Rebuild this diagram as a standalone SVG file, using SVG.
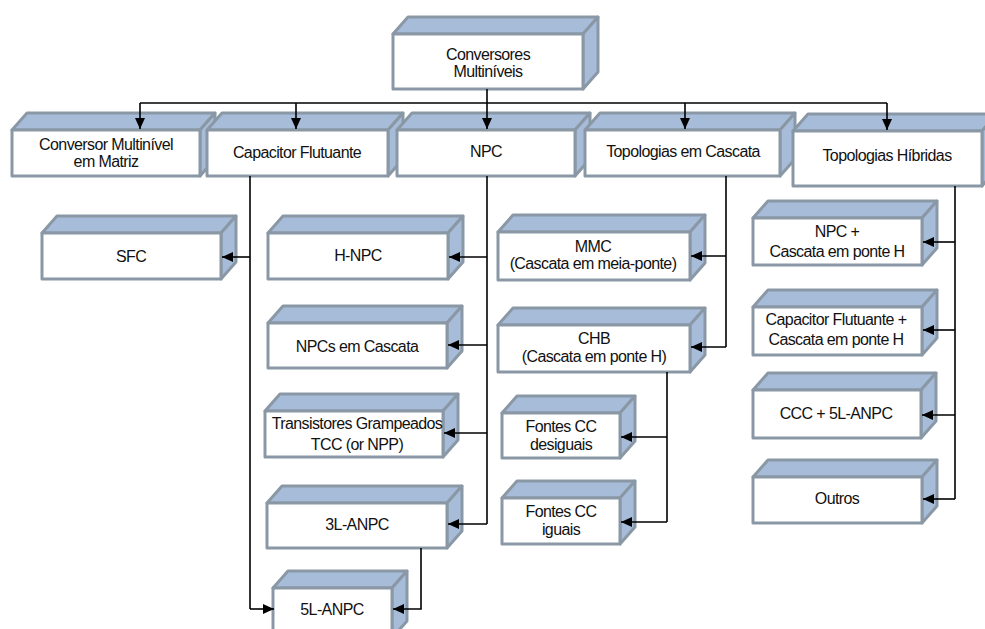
<svg xmlns="http://www.w3.org/2000/svg" width="985" height="629" viewBox="0 0 985 629">
<defs>
<style>
.f{fill:#ffffff;stroke:#8a98a6;stroke-width:3;stroke-linejoin:round}
.s{fill:#a7bcd8;stroke:#8a98a6;stroke-width:3;stroke-linejoin:round}
.t{font-family:"Liberation Sans",Arial,sans-serif;font-size:16px;letter-spacing:-0.6px;fill:#111;text-anchor:middle}
.c{fill:none;stroke:#000;stroke-width:1.6}
</style>
<marker id="ah" markerUnits="userSpaceOnUse" markerWidth="12" markerHeight="12" viewBox="0 0 12 12" refX="11" refY="6" orient="auto">
<path d="M0,1 L11,6 L0,11 Z" fill="#000"/>
</marker>
</defs>
<rect width="985" height="629" fill="#fff"/>

<g id="n-top">
<polygon class="s" points="393,34 408,17 598,17 583,34"/>
<polygon class="s" points="583,34 598,17 598,72 583,89"/>
<rect class="f" x="393" y="34" width="190" height="55"/>
<text class="t" x="488" y="60">Conversores</text>
<text class="t" x="488" y="77">Multiníveis</text>
</g>
<g id="n-matriz">
<polygon class="s" points="12,130 27,113 215,113 200,130"/>
<polygon class="s" points="200,130 215,113 215,159 200,176"/>
<rect class="f" x="12" y="130" width="188" height="46"/>
<text class="t" x="106" y="150">Conversor Multinível</text>
<text class="t" x="106" y="167">em Matriz</text>
</g>
<g id="n-capflut">
<polygon class="s" points="207,130 222,113 403,113 388,130"/>
<polygon class="s" points="388,130 403,113 403,159 388,176"/>
<rect class="f" x="207" y="130" width="181" height="46"/>
<text class="t" x="297" y="158">Capacitor Flutuante</text>
</g>
<g id="n-npc">
<polygon class="s" points="397,130 412,113 590,113 575,130"/>
<polygon class="s" points="575,130 590,113 590,159 575,176"/>
<rect class="f" x="397" y="130" width="178" height="46"/>
<text class="t" x="486" y="157">NPC</text>
</g>
<g id="n-cascata">
<polygon class="s" points="585,130 600,113 795,113 780,130"/>
<polygon class="s" points="780,130 795,113 795,159 780,176"/>
<rect class="f" x="585" y="130" width="195" height="46"/>
<text class="t" x="683" y="157">Topologias em Cascata</text>
</g>
<g id="n-hibridas">
<polygon class="s" points="793,131 808,114 997,114 982,131"/>
<polygon class="s" points="982,131 997,114 997,169 982,186"/>
<rect class="f" x="793" y="131" width="189" height="55"/>
<text class="t" x="887" y="161">Topologias Híbridas</text>
</g>

<g id="n-sfc">
<polygon class="s" points="42,233 57,216 236,216 221,233"/>
<polygon class="s" points="221,233 236,216 236,262 221,279"/>
<rect class="f" x="42" y="233" width="179" height="46"/>
<text class="t" x="131" y="262">SFC</text>
</g>
<g id="n-hnpc">
<polygon class="s" points="268,233 283,216 463,216 448,233"/>
<polygon class="s" points="448,233 463,216 463,262 448,279"/>
<rect class="f" x="268" y="233" width="180" height="46"/>
<text class="t" x="358" y="261">H-NPC</text>
</g>
<g id="n-npcscascata">
<polygon class="s" points="268,323 283,306 462,306 447,323"/>
<polygon class="s" points="447,323 462,306 462,351 447,368"/>
<rect class="f" x="268" y="323" width="179" height="45"/>
<text class="t" x="357" y="352">NPCs em Cascata</text>
</g>
<g id="n-tcc">
<polygon class="s" points="265,411 280,394 458,394 443,411"/>
<polygon class="s" points="443,411 458,394 458,440 443,457"/>
<rect class="f" x="265" y="411" width="178" height="46"/>
<text class="t" x="357" y="429">Transistores Grampeados</text>
<text class="t" x="357" y="450">TCC (or NPP)</text>
</g>
<g id="n-3lanpc">
<polygon class="s" points="267,503 282,486 462,486 447,503"/>
<polygon class="s" points="447,503 462,486 462,531 447,548"/>
<rect class="f" x="267" y="503" width="180" height="45"/>
<text class="t" x="357" y="530">3L-ANPC</text>
</g>
<g id="n-5lanpc">
<polygon class="s" points="273,588 288,571 407,571 392,588"/>
<polygon class="s" points="392,588 407,571 407,621 392,638"/>
<rect class="f" x="273" y="588" width="119" height="50"/>
<text class="t" x="332" y="615">5L-ANPC</text>
</g>

<g id="n-mmc">
<polygon class="s" points="498,232 513,215 705,215 690,232"/>
<polygon class="s" points="690,232 705,215 705,263 690,280"/>
<rect class="f" x="498" y="232" width="192" height="48"/>
<text class="t" x="593" y="252">MMC</text>
<text class="t" x="593" y="269">(Cascata em meia-ponte)</text>
</g>
<g id="n-chb">
<polygon class="s" points="498,325 513,308 705,308 690,325"/>
<polygon class="s" points="690,325 705,308 705,355 690,372"/>
<rect class="f" x="498" y="325" width="192" height="47"/>
<text class="t" x="594" y="344">CHB</text>
<text class="t" x="594" y="362">(Cascata em ponte H)</text>
</g>
<g id="n-desiguais">
<polygon class="s" points="502,413 517,396 635,396 620,413"/>
<polygon class="s" points="620,413 635,396 635,441 620,458"/>
<rect class="f" x="502" y="413" width="118" height="45"/>
<text class="t" x="561" y="432">Fontes CC</text>
<text class="t" x="561" y="450">desiguais</text>
</g>
<g id="n-iguais">
<polygon class="s" points="502,498 517,481 635,481 620,498"/>
<polygon class="s" points="620,498 635,481 635,527 620,544"/>
<rect class="f" x="502" y="498" width="118" height="46"/>
<text class="t" x="561" y="517">Fontes CC</text>
<text class="t" x="561" y="535">iguais</text>
</g>

<g id="n-h1">
<polygon class="s" points="753,218 768,201 937,201 922,218"/>
<polygon class="s" points="922,218 937,201 937,248 922,265"/>
<rect class="f" x="753" y="218" width="169" height="47"/>
<text class="t" x="837" y="237">NPC +</text>
<text class="t" x="837" y="257">Cascata em ponte H</text>
</g>
<g id="n-h2">
<polygon class="s" points="753,307 768,290 937,290 922,307"/>
<polygon class="s" points="922,307 937,290 937,338 922,355"/>
<rect class="f" x="753" y="307" width="169" height="48"/>
<text class="t" x="836" y="325">Capacitor Flutuante +</text>
<text class="t" x="836" y="345">Cascata em ponte H</text>
</g>
<g id="n-h3">
<polygon class="s" points="753,390 768,373 936,373 921,390"/>
<polygon class="s" points="921,390 936,373 936,421 921,438"/>
<rect class="f" x="753" y="390" width="168" height="48"/>
<text class="t" x="836" y="419">CCC + 5L-ANPC</text>
</g>
<g id="n-h4">
<polygon class="s" points="753,477 768,460 937,460 922,477"/>
<polygon class="s" points="922,477 937,460 937,506 922,523"/>
<rect class="f" x="753" y="477" width="169" height="46"/>
<text class="t" x="837" y="504">Outros</text>
</g>

<g id="connectors">
<path class="c" d="M487,89 V103 M140,103 H887"/>
<path class="c" d="M140,103 V129" marker-end="url(#ah)"/>
<path class="c" d="M296,103 V129" marker-end="url(#ah)"/>
<path class="c" d="M487,103 V129" marker-end="url(#ah)"/>
<path class="c" d="M685,103 V129" marker-end="url(#ah)"/>
<path class="c" d="M887,103 V130" marker-end="url(#ah)"/>

<path class="c" d="M250,176 V609"/>
<path class="c" d="M250,257 H222" marker-end="url(#ah)"/>
<path class="c" d="M250,609 H274" marker-end="url(#ah)"/>

<path class="c" d="M487,176 V524"/>
<path class="c" d="M487,257 H449" marker-end="url(#ah)"/>
<path class="c" d="M487,345 H448" marker-end="url(#ah)"/>
<path class="c" d="M487,433 H444" marker-end="url(#ah)"/>
<path class="c" d="M487,524 H448" marker-end="url(#ah)"/>
<path class="c" d="M421,548 V609 H393" marker-end="url(#ah)"/>

<path class="c" d="M726,176 V347"/>
<path class="c" d="M726,256 H691" marker-end="url(#ah)"/>
<path class="c" d="M726,347 H691" marker-end="url(#ah)"/>

<path class="c" d="M667,372 V522"/>
<path class="c" d="M667,437 H621" marker-end="url(#ah)"/>
<path class="c" d="M667,522 H621" marker-end="url(#ah)"/>

<path class="c" d="M955,186 V499"/>
<path class="c" d="M955,242 H923" marker-end="url(#ah)"/>
<path class="c" d="M955,330 H923" marker-end="url(#ah)"/>
<path class="c" d="M955,415 H922" marker-end="url(#ah)"/>
<path class="c" d="M955,499 H923" marker-end="url(#ah)"/>
</g>
</svg>
